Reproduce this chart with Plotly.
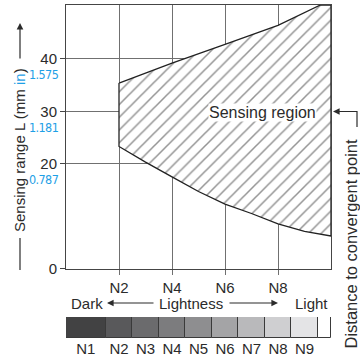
import plotly.graph_objects as go

# ---- data ----
upper_x = [2, 4, 6, 8, 9.6, 10]
upper_y = [35.4, 39.2, 42.8, 46.4, 50.3, 50.3]
lower_x = [2, 3, 4, 5, 6, 7, 8, 9, 10]
lower_y = [23.3, 20.3, 17.5, 14.7, 12.3, 10.5, 8.5, 7.1, 6.2]

x_tick_vals = [2, 4, 6, 8]
x_tick_text = ["N2", "N4", "N6", "N8"]
y_tick_vals = [0, 20, 30, 40]
y_tick_text = ["0", "20", "30", "40"]
inch_vals = [20, 30, 40]
inch_text = ["0.787", "1.181", "1.575"]

scale_names = ["N1", "N2", "N3", "N4", "N5", "N6", "N7", "N8", "N9", ""]
scale_centers = [0.75, 2, 3, 4, 5, 6, 7, 8, 9, 9.75]
scale_widths = [1.5, 1, 1, 1, 1, 1, 1, 1, 1, 0.5]
scale_colors = ["#424243", "#59595b", "#6b6b6d", "#7c7c7e", "#8e8e90",
                "#a4a4a6", "#b9b9bb", "#cfcfd1", "#e4e4e6", "#ffffff"]

# ---- geometry helpers (pixel -> paper) ----
L, R, T, B = 66, 331, 5, 338
W, H = R - L, B - T
def px(x):
    return (x - L) / W
def py(y):
    return (B - y) / H

FONT = "Liberation Sans, Arial, sans-serif"
NARROW = "DejaVu Sans Condensed, Liberation Sans Narrow, Liberation Sans, Arial, sans-serif"
TXT = "#2b2b2b"
BLUE = "#1ea0e6"
GRID = "#707070"
BORDER = "#454545"

fig = go.Figure()

poly_x = upper_x + lower_x[::-1] + [upper_x[0]]
poly_y = upper_y + lower_y[::-1] + [upper_y[0]]
fig.add_trace(go.Scatter(
    x=poly_x, y=poly_y, mode="lines", fill="toself",
    fillcolor="white",
    fillpattern=dict(shape="/", size=9, solidity=0.17, fgcolor="#2a2a2a", bgcolor="white"),
    line=dict(color="#222222", width=1.3),
    hoverinfo="skip", showlegend=False, xaxis="x", yaxis="y"))

fig.add_trace(go.Bar(
    x=scale_centers, y=[1] * len(scale_centers), width=scale_widths,
    marker=dict(color=scale_colors, line=dict(color="#3a3a3a", width=1)),
    cliponaxis=False, hoverinfo="skip", showlegend=False,
    xaxis="x2", yaxis="y2"))

annotations = []
for v, t in zip(inch_vals, inch_text):
    annotations.append(dict(x=0, xref="paper", y=v, yref="y", xanchor="right",
                            yanchor="middle", xshift=-5, yshift=-16,
                            text="<span style='letter-spacing:-0.6px'>%s</span>" % t,
                            showarrow=False, font=dict(family=NARROW, size=12.5, color=BLUE)))

def ptext(xp, yp, text, size=15, angle=0, **kw):
    d = dict(x=px(xp), y=py(yp), xref="paper", yref="paper", text=text,
             xanchor="center", yanchor="middle", textangle=angle, showarrow=False,
             font=dict(family=FONT, size=size, color=TXT))
    d.update(kw)
    return d

def parrow(xp, yp, ax, ay):
    return dict(x=px(xp), y=py(yp), xref="paper", yref="paper", text="",
                showarrow=True, ax=ax, ay=ay, arrowhead=2, arrowsize=1.1,
                arrowwidth=1.2, arrowcolor=TXT)

# y-axis title
annotations.append(ptext(20, 150, "Sensing range L (mm <span style='color:%s'>in</span>)" % BLUE, angle=-90))
annotations.append(parrow(20, 23, 0, 37))

# Lightness row
for xc, t in [(87, "Dark"), (191, "Lightness"), (311, "Light")]:
    annotations.append(ptext(xc, 303, t))
annotations.append(parrow(107, 303, 48, 0))
annotations.append(parrow(278, 303, -50, 0))

# Sensing region label
annotations.append(dict(x=7.4, y=29.7, xref="x", yref="y", text="Sensing region",
                        xanchor="center", yanchor="middle",
                        bgcolor="white", borderpad=0, showarrow=False,
                        font=dict(family=FONT, size=16, color=TXT)))
annotations.append(parrow(333, 111.5, 25, 0))
annotations.append(ptext(350.5, 244, "Distance to convergent point", size=16.5, angle=-90))

shapes = [
    dict(type="line", xref="paper", yref="paper", x0=px(20), x1=px(20), y0=py(238), y1=py(270),
         line=dict(color=TXT, width=1.2)),
    dict(type="path", xref="paper", yref="paper",
         path="M %f %f L %f %f L %f %f" % (px(345), py(111.5), px(357), py(111.5), px(357), py(127)),
         line=dict(color=TXT, width=1.2)),
]

fig.update_layout(
    width=360, height=357,
    margin=dict(l=L, r=360 - R, t=T, b=357 - B, pad=0, autoexpand=False),
    paper_bgcolor="white", plot_bgcolor="white",
    font=dict(family=FONT, size=15, color=TXT),
    xaxis=dict(domain=[0, 1], range=[0, 10], tickvals=x_tick_vals, ticktext=x_tick_text,
               showgrid=True, gridcolor=GRID, gridwidth=1, zeroline=False,
               showline=True, linecolor=BORDER, linewidth=1, mirror=True,
               ticks="outside", ticklen=5, tickcolor=GRID, anchor="y", automargin=False,
               tickfont=dict(size=15, color=TXT)),
    yaxis=dict(domain=[py(268.5), 1], range=[0, 50.3], tickvals=y_tick_vals, ticktext=y_tick_text,
               showgrid=True, gridcolor=GRID, gridwidth=1, zeroline=False,
               showline=True, linecolor=BORDER, linewidth=1, mirror=True,
               ticks="outside", ticklen=5, tickcolor=BORDER, anchor="x", automargin=False,
               tickfont=dict(size=15, color=TXT)),
    xaxis2=dict(domain=[0, 1], range=[0, 10], anchor="y2", tickvals=scale_centers[:9],
                ticktext=scale_names[:9], showgrid=False, zeroline=False, showline=False,
                ticks="", automargin=False, tickfont=dict(size=15, color=TXT)),
    yaxis2=dict(domain=[0, py(317)], range=[0, 1], anchor="x2", showticklabels=False,
                showgrid=False, zeroline=False, showline=False, automargin=False),
    bargap=0,
    annotations=annotations,
    shapes=shapes,
)

fig.write_html("out.html")
